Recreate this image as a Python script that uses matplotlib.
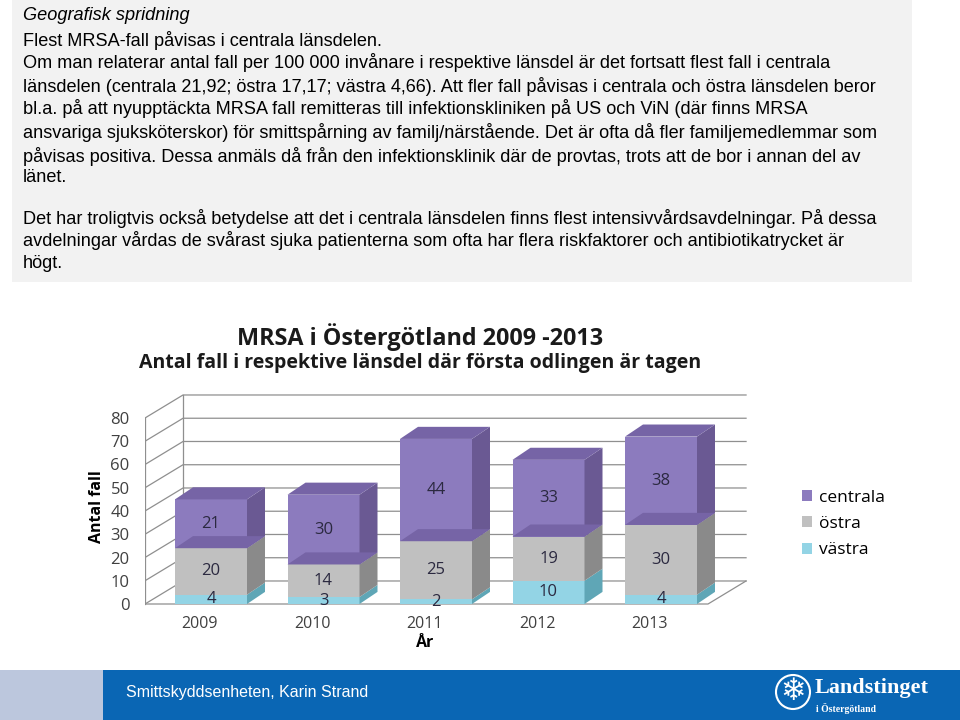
import matplotlib
matplotlib.use("Agg")
import matplotlib.pyplot as plt
from matplotlib.patches import Polygon, Rectangle, Circle
import numpy as np

# data
years = ["2009", "2010", "2011", "2012", "2013"]
vastra = [4, 3, 2, 10, 4]
ostra = [20, 14, 25, 19, 30]
centrala = [21, 30, 44, 33, 38]
y_ticks = [0, 10, 20, 30, 40, 50, 60, 70, 80]

body_lines = [
    ("Geografisk spridning", 16, "italic"),
    ("Flest MRSA-fall påvisas i centrala länsdelen.", 40, "normal"),
    ("Om man relaterar antal fall per 100 000 invånare i respektive länsdel är det fortsatt flest fall i centrala", 63, "normal"),
    ("länsdelen (centrala 21,92; östra 17,17; västra 4,66). Att fler fall påvisas i centrala och östra länsdelen beror", 86, "normal"),
    ("bl.a. på att nyupptäckta MRSA fall remitteras till infektionskliniken på US och ViN (där finns MRSA", 109, "normal"),
    ("ansvariga sjuksköterskor) för smittspårning av familj/närstående. Det är ofta då fler familjemedlemmar som", 132, "normal"),
    ("påvisas positiva. Dessa anmäls då från den infektionsklinik där de provtas, trots att de bor i annan del av", 156, "normal"),
    ("länet.", 178, "normal"),
    ("Det har troligtvis också betydelse att det i centrala länsdelen finns flest intensivvårdsavdelningar. På dessa", 218, "normal"),
    ("avdelningar vårdas de svårast sjuka patienterna som ofta har flera riskfaktorer och antibiotikatrycket är", 241, "normal"),
    ("högt.", 264, "normal"),
]

W, H = 960, 720


def fx(x):
    return x / W


def fy(y):
    return 1 - y / H


body_font, body_size = "Liberation Sans", 13.1

fig = plt.figure(figsize=(9.6, 7.2), dpi=100)
fig.patch.set_facecolor("white")

# grå textruta
fig.add_artist(Rectangle((fx(12), fy(282)), 900 / W, 282 / H, transform=fig.transFigure,
                         facecolor="#F2F2F2", edgecolor="none", zorder=0))
for txt, ypix, style in body_lines:
    fig.text(fx(23), fy(ypix), txt, family=body_font, fontsize=body_size, style=style,
             va="center", ha="left", color="black")

# sidfot
fig.add_artist(Rectangle((0, 0), 103 / W, 50 / H, transform=fig.transFigure,
                         facecolor="#BCC7DD", edgecolor="none"))
fig.add_artist(Rectangle((103 / W, 0), 857 / W, 50 / H, transform=fig.transFigure,
                         facecolor="#0A66B4", edgecolor="none"))
fig.text(fx(126), fy(692), "Smittskyddsenheten, Karin Strand", family=body_font,
         fontsize=11.5, color="white", va="center")
fig.add_artist(Circle((7.93, (H - 692) / 100), 0.17, transform=fig.dpi_scale_trans,
                      facecolor="none", edgecolor="white", lw=1.5))
fig.text(fx(793), fy(692), "\u2744", family="DejaVu Sans", fontsize=22, color="white",
         ha="center", va="center")
fig.text(fx(815), fy(688), "Landstinget", family="Liberation Serif", fontweight="bold",
         fontsize=16, color="white", va="center")
fig.text(fx(816), fy(708), "i Östergötland", family="Liberation Serif", fontweight="bold",
         fontsize=7, color="white", va="center")

# diagramrubrik
fig.text(fx(420), fy(337), "MRSA i Östergötland 2009 -2013", family="Open Sans",
         fontweight="bold", fontsize=16.8, ha="center", va="center", color="#1a1a1a")
fig.text(fx(420), fy(363), "Antal fall i respektive länsdel där första odlingen är tagen",
         family="Open Sans", fontweight="bold", fontsize=14, ha="center", va="center", color="#1a1a1a")

# diagram
ax = fig.add_axes([fx(145), fy(608.65), (760 - 145) / W, (608.65 - 390.1) / H])
ax.set_xlim(-0.5867, 4.88)
ax.set_ylim(-2, 92)
for s in ax.spines.values():
    s.set_visible(False)
ax.patch.set_alpha(0)

# väggar och golv
f0, f1 = -0.5867, 4.418
wdx, wdy = 0.338, 9.9
gc = "#8f8f8f"
for v in y_ticks:
    ax.plot([f0, f0 + wdx, f1 + wdx], [v, v + wdy, v + wdy], color=gc, lw=0.9, zorder=1)
ax.plot([f0, f0], [0, 80], color=gc, lw=0.9, zorder=1)
ax.plot([f0 + wdx, f0 + wdx], [wdy, 80 + wdy], color=gc, lw=0.9, zorder=1)
ax.plot([f0, f1, f1 + wdx], [0, 0, wdy], color=gc, lw=0.9, zorder=1)

x = np.arange(len(years))
bw = 0.64
bdx, bdy = 0.16, 5.2

series = [
    ("västra", vastra, "#93D4E5", "#5FA6B6", "#7CC3D4"),
    ("östra", ostra, "#C0C0C0", "#8A8A8A", "#A8A8A8"),
    ("centrala", centrala, "#8C7BBE", "#6A5993", "#7664A6"),
]

bottom = np.zeros(len(years))
conts = {}
for name, vals, front, side, top in series:
    vals = np.array(vals, dtype=float)
    conts[name] = ax.bar(x, vals, bw, bottom=bottom, color=front, edgecolor="none",
                         zorder=3, label=name)
    for i in range(len(x)):
        l, r = x[i] - bw / 2, x[i] + bw / 2
        b, t = bottom[i], bottom[i] + vals[i]
        ax.add_patch(Polygon([(r, b), (r + bdx, b + bdy), (r + bdx, t + bdy), (r, t)],
                             closed=True, facecolor=side, edgecolor="none", zorder=3))
        if name == "centrala":
            # undersida syns genom
            ax.add_patch(Polygon([(l, b), (r, b), (r + bdx, b + bdy), (l + bdx, b + bdy)],
                                 closed=True, facecolor=top, edgecolor="none", zorder=4))
            ax.add_patch(Polygon([(l, t), (r, t), (r + bdx, t + bdy), (l + bdx, t + bdy)],
                                 closed=True, facecolor=top, edgecolor="none", zorder=4))
        ax.text(x[i], b + vals[i] / 2, f"{int(vals[i])}", ha="center", va="center",
                fontsize=12, family="Open Sans", color="#2b2940", zorder=5)
    bottom = bottom + vals

ax.set_yticks(y_ticks)
ax.set_yticklabels([str(v) for v in y_ticks], family="Open Sans", fontsize=12, color="#404040")
ax.set_xticks(x - 0.1)
ax.set_xticklabels(years, family="Open Sans", fontsize=11.5, color="#404040")
ax.tick_params(axis="y", length=0, pad=11)
ax.tick_params(axis="x", length=0, pad=5)

ax.set_ylabel("Antal fall", family="Open Sans", fontweight="bold", fontsize=11.5)
ax.yaxis.set_label_coords(-0.065, 0.465)
ax.set_xlabel("År", family="Open Sans", fontweight="bold", fontsize=11.5)
ax.xaxis.set_label_coords(0.455, -0.12)

fig.legend([conts["centrala"], conts["östra"], conts["västra"]], ["centrala", "östra", "västra"],
           loc="upper left", bbox_to_anchor=(fx(786), fy(474)), frameon=False,
           prop={"family": "Open Sans", "size": 12.5}, handlelength=0.6, handleheight=0.6,
           labelspacing=0.6, handletextpad=0.4)

fig.savefig("out.png", dpi=100)
